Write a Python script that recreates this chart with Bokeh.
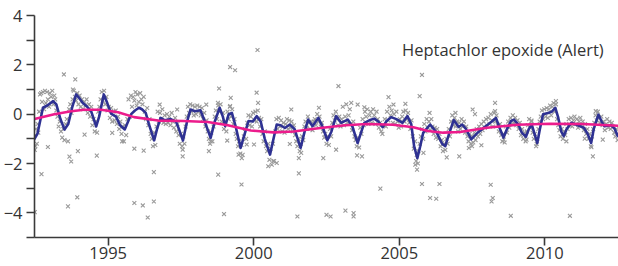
from bokeh.plotting import figure
from bokeh.models import FixedTicker, Label, Range1d
from bokeh.embed import file_html
from bokeh.resources import INLINE

TITLE = "Heptachlor epoxide (Alert)"
X_TICKS = [1995, 2000, 2005, 2010]
Y_TICKS = [-4, -2, 0, 2, 4]
Y_MINOR = [-5, -3, -1, 1, 3]

# seasonal fit (blue)
fit_year = [1992.42, 1992.57, 1992.76, 1992.91, 1993.11, 1993.22, 1993.36, 1993.50, 1993.63, 1993.77,
            1993.90, 1994.01, 1994.13, 1994.28, 1994.42, 1994.59, 1994.69, 1994.85, 1994.97, 1995.10,
            1995.27, 1995.41, 1995.57, 1995.72, 1995.79, 1995.92, 1996.06, 1996.16, 1996.29, 1996.40,
            1996.58, 1996.68, 1996.80, 1996.95, 1997.15, 1997.33, 1997.43, 1997.57, 1997.71, 1997.83,
            1997.98, 1998.17, 1998.32, 1998.52, 1998.66, 1998.83, 1998.94, 1999.02, 1999.14, 1999.25,
            1999.38, 1999.55, 1999.69, 1999.82, 1999.97, 2000.10, 2000.24, 2000.38, 2000.56, 2000.68,
            2000.79, 2000.92, 2001.07, 2001.24, 2001.40, 2001.61, 2001.75, 2001.87, 2002.02, 2002.22,
            2002.36, 2002.53, 2002.67, 2002.83, 2003.00, 2003.23, 2003.39, 2003.57, 2003.70, 2003.80,
            2003.97, 2004.14, 2004.28, 2004.43, 2004.55, 2004.72, 2004.90, 2005.11, 2005.28, 2005.41,
            2005.51, 2005.62, 2005.72, 2005.82, 2006.06, 2006.29, 2006.47, 2006.58, 2006.71, 2006.87,
            2007.04, 2007.16, 2007.29, 2007.47, 2007.72, 2008.01, 2008.18, 2008.32, 2008.46, 2008.58,
            2008.70, 2008.84, 2008.94, 2009.09, 2009.21, 2009.35, 2009.45, 2009.55, 2009.62, 2009.74,
            2009.83, 2009.94, 2010.11, 2010.24, 2010.36, 2010.45, 2010.57, 2010.65, 2010.75, 2010.91,
            2011.13, 2011.34, 2011.47, 2011.59, 2011.68, 2011.84, 2011.95, 2012.05, 2012.28, 2012.40,
            2012.52]
fit_val = [-1.10, -0.80, 0.26, 0.35, 0.53, 0.40, -0.20, -0.62, -0.40, 0.30,
           0.80, 0.65, 0.45, 0.30, 0.10, -0.50, -0.10, 0.80, 0.45, 0.02,
           -0.10, -0.45, -0.62, -0.20, 0.00, 0.15, 0.26, 0.20, 0.05, -0.40,
           -1.06, -0.60, -0.15, -0.25, -0.20, -0.30, -0.60, -1.07, -0.30, 0.19,
           0.12, 0.16, -0.30, -0.96, -0.30, 0.26, -0.10, -0.49, 0.00, 0.05,
           -0.50, -1.37, -0.80, -0.28, -0.30, -0.08, -0.30, -1.00, -1.64, -1.00,
           -0.42, -0.45, -0.56, -0.42, -0.60, -1.37, -0.70, -0.22, -0.49, -0.15,
           -0.50, -1.06, -0.70, -0.08, -0.35, -0.22, -0.50, -1.17, -0.70, -0.35,
           -0.25, -0.18, -0.30, -0.53, -0.30, -0.12, -0.20, -0.35, -0.08, -0.40,
           -1.30, -1.78, -1.30, -0.76, -0.42, -0.76, -1.20, -1.30, -0.80, -0.24,
           -0.52, -0.42, -0.60, -1.02, -0.72, -0.45, -0.30, -0.15, -0.60, -0.95,
           -0.60, -0.27, -0.22, -0.42, -0.75, -0.92, -0.60, -0.42, -0.70, -1.17,
           -0.60, 0.00, 0.05, 0.10, 0.26, -0.10, -0.72, -0.89, -0.60, -0.35,
           -0.45, -0.55, -0.80, -1.17, -0.60, -0.02, -0.30, -0.49, -0.45, -0.60,
           -0.92]

# long-term trend (magenta)
trend_year = [1992.47, 1993.15, 1993.73, 1994.18, 1994.76, 1995.34, 1995.89, 1996.71, 1997.60,
              1998.42, 1999.11, 1999.90, 2000.68, 2001.37, 2002.29, 2003.15, 2003.90, 2004.79,
              2005.48, 2005.99, 2006.51, 2007.09, 2008.01, 2009.04, 2010.17, 2011.30, 2012.53]
trend_val = [-0.20, 0.00, 0.12, 0.18, 0.18, 0.08, -0.12, -0.26, -0.28,
             -0.32, -0.45, -0.66, -0.74, -0.70, -0.56, -0.45, -0.40, -0.43,
             -0.53, -0.68, -0.75, -0.72, -0.55, -0.43, -0.39, -0.40, -0.47]

# observations (grey crosses): dense cloud
cloud_pts = [
    (1992.45, -0.9), (1992.48, -1.45), (1992.5, -1.3), (1992.52, -0.6), (1992.55, -1.2), (1992.58, -0.4),
    (1992.6, -0.75), (1992.63, 0.1), (1992.66, 0.8), (1992.7, 0.85), (1992.73, 0.5), (1992.76, 0.9),
    (1992.8, 0.2), (1992.83, 0.95), (1992.86, 0.45), (1992.9, 0.9), (1992.93, 0.6), (1992.97, 0.3),
    (1993.0, 0.85), (1993.04, 0.7), (1993.08, 0.95), (1993.12, 0.4), (1993.15, 0.75), (1993.18, 0.6),
    (1993.22, 0.15), (1993.26, -0.1), (1993.3, -0.5), (1993.34, -0.3), (1993.38, -0.7), (1993.42, -0.95),
    (1993.46, -0.6), (1993.5, -1.05), (1993.54, -0.4), (1993.58, -0.2), (1993.62, -1.1), (1993.66, 0.2),
    (1993.7, 0.4), (1993.74, 0.05), (1993.78, 0.6), (1993.82, 0.95), (1993.86, 0.7), (1993.9, 0.55),
    (1993.94, 0.85), (1993.98, 0.4), (1994.02, 0.75), (1994.06, 0.3), (1994.1, 0.6), (1994.14, 0.2),
    (1994.18, 0.5), (1994.22, 0.35), (1994.26, 0.6), (1994.3, 0.05), (1994.34, 0.4), (1994.38, -0.1),
    (1994.42, 0.3), (1994.46, -0.45), (1994.5, -0.2), (1994.54, -0.7), (1994.58, -0.3), (1994.62, -0.75),
    (1994.66, 0.1), (1994.7, 0.3), (1994.74, 0.6), (1994.78, 0.9), (1994.82, 0.55), (1994.86, 0.95),
    (1994.9, 0.4), (1994.94, 0.7), (1994.98, 0.15), (1995.02, 0.3), (1995.06, -0.15), (1995.1, 0.25),
    (1995.14, -0.3), (1995.18, 0.1), (1995.22, -0.25), (1995.26, 0.15), (1995.3, -0.4), (1995.34, -0.1),
    (1995.38, -0.6), (1995.42, -0.3), (1995.46, -0.8), (1995.5, -0.5), (1995.54, -1.1), (1995.58, -0.45),
    (1995.62, -0.85), (1995.66, -0.2), (1995.7, 0.6), (1995.74, -0.1), (1995.78, 0.75), (1995.82, 0.3),
    (1995.86, 0.7), (1995.9, 0.55), (1995.94, 0.9), (1995.98, 0.35), (1996.0, 0.8), (1996.05, 0.5),
    (1996.1, 0.85), (1996.14, 0.6), (1996.18, 0.4), (1996.22, 0.7), (1996.26, 0.1), (1996.3, -0.2),
    (1996.34, 0.25), (1996.38, -0.45), (1996.42, -0.2), (1996.46, -0.8), (1996.5, -1.0), (1996.54, -1.3),
    (1996.58, -0.75), (1996.62, -1.25), (1996.66, -0.5), (1996.7, 0.1), (1996.74, -0.3), (1996.78, 0.05),
    (1996.82, -0.2), (1996.86, 0.2), (1996.9, -0.35), (1996.94, -0.05), (1996.98, -0.4), (1997.02, 0.0),
    (1997.06, -0.35), (1997.1, -0.1), (1997.14, -0.45), (1997.18, 0.05), (1997.22, -0.3), (1997.26, -0.55),
    (1997.3, -0.15), (1997.34, -0.7), (1997.38, -0.4), (1997.42, -0.85), (1997.46, -1.2), (1997.5, -0.8),
    (1997.54, -1.3), (1997.58, -0.9), (1997.62, -1.2), (1997.66, -0.5), (1997.7, -0.1), (1997.74, 0.3),
    (1997.78, 0.05), (1997.82, 0.4), (1997.86, 0.1), (1997.9, 0.35), (1997.94, -0.05), (1997.98, 0.3),
    (1998.02, 0.0), (1998.06, 0.35), (1998.1, 0.1), (1998.14, 0.3), (1998.18, -0.05), (1998.22, 0.25),
    (1998.26, -0.2), (1998.3, 0.05), (1998.34, -0.5), (1998.38, -0.25), (1998.42, -0.7), (1998.46, -1.0),
    (1998.5, -1.2), (1998.54, -0.75), (1998.58, -1.1), (1998.62, -0.5), (1998.66, -0.1), (1998.7, 0.15),
    (1998.74, -0.2), (1998.78, 0.35), (1998.82, 0.1), (1998.86, 0.4), (1998.9, -0.3), (1998.94, 0.05),
    (1998.98, -0.6), (1999.02, -0.3), (1999.06, -0.7), (1999.1, 0.1), (1999.14, -0.2), (1999.18, 0.3),
    (1999.22, -0.1), (1999.26, 0.2), (1999.3, -0.4), (1999.34, -0.2), (1999.38, -0.8), (1999.42, -1.0),
    (1999.46, -1.3), (1999.5, -1.1), (1999.54, -1.6), (1999.58, -1.25), (1999.62, -1.65), (1999.66, -0.9),
    (1999.7, -0.6), (1999.74, -1.0), (1999.78, -0.35), (1999.82, -0.05), (1999.86, -0.45), (1999.9, -0.1),
    (1999.94, -0.5), (1999.98, 0.05), (2000.02, -0.25), (2000.06, 0.1), (2000.1, -0.3), (2000.14, 0.15),
    (2000.18, -0.15), (2000.22, -0.5), (2000.26, -0.2), (2000.3, -0.8), (2000.34, -1.1), (2000.38, -0.7),
    (2000.42, -1.3), (2000.46, -1.5), (2000.5, -1.2), (2000.54, -1.85), (2000.58, -1.4), (2000.62, -2.05),
    (2000.66, -1.2), (2000.7, -1.9), (2000.74, -0.7), (2000.78, -0.2), (2000.82, -0.6), (2000.86, -0.15),
    (2000.9, -0.5), (2000.94, -0.25), (2000.98, -0.7), (2001.02, -0.35), (2001.06, -0.75), (2001.1, -0.4),
    (2001.14, -0.2), (2001.18, -0.6), (2001.22, -0.25), (2001.26, -0.55), (2001.3, -0.3), (2001.34, -0.7),
    (2001.38, -0.45), (2001.42, -0.85), (2001.46, -1.1), (2001.5, -1.3), (2001.54, -1.0), (2001.58, -1.5),
    (2001.62, -1.2), (2001.66, -0.9), (2001.7, -1.05), (2001.74, -0.5), (2001.78, -0.3), (2001.82, -0.55),
    (2001.86, -0.1), (2001.9, -0.35), (2001.94, -0.6), (2001.98, -0.3), (2002.02, -0.65), (2002.06, -0.3),
    (2002.1, -0.2), (2002.14, -0.45), (2002.18, 0.0), (2002.22, -0.3), (2002.26, -0.1), (2002.3, -0.5),
    (2002.34, -0.35), (2002.38, -0.7), (2002.42, -0.95), (2002.46, -0.8), (2002.5, -1.2), (2002.54, -0.9),
    (2002.58, -1.25), (2002.62, -0.6), (2002.66, -0.9), (2002.7, -0.35), (2002.74, -0.05), (2002.78, -0.25),
    (2002.82, 0.1), (2002.86, -0.2), (2002.9, -0.45), (2002.94, -0.1), (2002.98, -0.5), (2003.02, -0.2),
    (2003.06, 0.3), (2003.1, -0.45), (2003.14, -0.1), (2003.18, 0.4), (2003.22, -0.35), (2003.26, -0.05),
    (2003.3, 0.2), (2003.34, -0.4), (2003.38, -0.65), (2003.42, -0.3), (2003.46, -0.9), (2003.5, -1.05),
    (2003.54, -1.3), (2003.58, -0.95), (2003.62, -1.35), (2003.66, -0.55), (2003.7, -0.8), (2003.74, -0.2),
    (2003.78, -0.45), (2003.82, 0.1), (2003.86, -0.1), (2003.9, 0.2), (2003.94, -0.4), (2003.98, -0.05),
    (2004.02, 0.1), (2004.06, -0.35), (2004.1, 0.2), (2004.14, -0.05), (2004.18, -0.4), (2004.22, 0.1),
    (2004.26, -0.2), (2004.3, -0.55), (2004.34, -0.35), (2004.38, -0.7), (2004.42, -0.8), (2004.46, -0.45),
    (2004.5, -0.2), (2004.54, -0.5), (2004.58, 0.1), (2004.62, -0.25), (2004.66, 0.3), (2004.7, -0.05),
    (2004.74, 0.15), (2004.78, -0.35), (2004.82, 0.0), (2004.86, -0.4), (2004.9, 0.1), (2004.94, -0.3),
    (2004.98, -0.55), (2005.02, -0.2), (2005.06, -0.5), (2005.1, -0.1), (2005.14, 0.1), (2005.18, -0.3),
    (2005.22, 0.15), (2005.26, -0.2), (2005.3, 0.05), (2005.34, -0.35), (2005.38, -0.6), (2005.42, -0.25),
    (2005.46, -0.9), (2005.5, -1.4), (2005.54, -1.1), (2005.58, -1.9), (2005.6, -1.65), (2005.64, -2.0),
    (2005.66, -1.5), (2005.7, -1.2), (2005.74, -0.9), (2005.78, -0.6), (2005.82, -1.0), (2005.86, -0.4),
    (2005.9, -0.7), (2005.94, -0.2), (2005.98, -0.55), (2006.02, -0.3), (2006.06, -0.65), (2006.1, -0.2),
    (2006.14, -0.5), (2006.18, -0.8), (2006.22, -0.55), (2006.26, -0.95), (2006.3, -0.6), (2006.34, -1.0),
    (2006.38, -0.8), (2006.42, -1.3), (2006.46, -1.05), (2006.5, -1.5), (2006.54, -1.2), (2006.58, -1.45),
    (2006.62, -1.0), (2006.66, -1.2), (2006.7, -0.6), (2006.74, -0.9), (2006.78, -0.3), (2006.82, -0.05),
    (2006.86, -0.45), (2006.9, -0.15), (2006.94, -0.5), (2006.98, -0.3), (2007.02, -0.7), (2007.06, -0.35),
    (2007.1, -0.6), (2007.14, -0.2), (2007.18, -0.5), (2007.22, -0.3), (2007.26, -0.75), (2007.3, -0.5),
    (2007.34, -0.9), (2007.38, -1.1), (2007.42, -0.8), (2007.46, -1.2), (2007.5, -0.9), (2007.54, -1.15),
    (2007.58, -0.75), (2007.62, -1.05), (2007.66, -0.6), (2007.7, -0.9), (2007.74, -0.5), (2007.78, -0.8),
    (2007.82, -0.4), (2007.86, -0.65), (2007.9, -0.3), (2007.94, -0.55), (2007.98, -0.2), (2008.02, -0.5),
    (2008.06, -0.15), (2008.1, -0.4), (2008.14, 0.0), (2008.18, -0.25), (2008.22, -0.5), (2008.26, 0.05),
    (2008.3, -0.3), (2008.34, -0.05), (2008.38, -0.45), (2008.42, -0.7), (2008.46, -0.4), (2008.5, -0.85),
    (2008.54, -1.1), (2008.58, -0.8), (2008.62, -1.15), (2008.66, -0.5), (2008.7, -0.75), (2008.74, -0.3),
    (2008.78, -0.55), (2008.82, -0.15), (2008.86, -0.4), (2008.9, -0.05), (2008.94, -0.35), (2008.98, -0.15),
    (2009.02, -0.45), (2009.06, -0.25), (2009.1, -0.6), (2009.14, -0.35), (2009.18, -0.85), (2009.22, -0.6),
    (2009.26, -1.0), (2009.3, -0.75), (2009.34, -1.1), (2009.38, -0.7), (2009.42, -0.45), (2009.46, -0.2),
    (2009.5, -0.55), (2009.54, -0.3), (2009.58, -0.75), (2009.62, -1.0), (2009.66, -0.8), (2009.7, -1.3),
    (2009.74, -1.0), (2009.78, -0.6), (2009.82, -0.3), (2009.86, -0.1), (2009.9, 0.15), (2009.94, -0.2),
    (2009.98, 0.2), (2010.02, -0.1), (2010.06, 0.25), (2010.1, -0.15), (2010.14, 0.2), (2010.18, 0.35),
    (2010.22, -0.05), (2010.26, 0.3), (2010.3, 0.45), (2010.34, 0.1), (2010.38, 0.4), (2010.42, -0.2),
    (2010.46, -0.45), (2010.5, -0.65), (2010.54, -0.9), (2010.58, -0.6), (2010.62, -1.0), (2010.66, -0.7),
    (2010.7, -0.85), (2010.74, -0.4), (2010.78, -0.6), (2010.82, -0.2), (2010.86, -0.45), (2010.9, -0.15),
    (2010.94, -0.5), (2010.98, -0.25), (2011.02, -0.1), (2011.06, -0.4), (2011.1, -0.2), (2011.14, -0.55),
    (2011.18, -0.3), (2011.22, -0.15), (2011.26, -0.45), (2011.3, -0.3), (2011.34, -0.65), (2011.38, -0.4),
    (2011.42, -0.8), (2011.46, -0.6), (2011.5, -1.0), (2011.54, -0.8), (2011.58, -1.3), (2011.62, -0.9),
    (2011.66, -0.6), (2011.7, -0.35), (2011.74, -0.05), (2011.78, -0.25), (2011.82, 0.1), (2011.86, -0.15),
    (2011.9, -0.35), (2011.94, -0.1), (2011.98, -0.45), (2012.02, -0.3), (2012.06, -0.65), (2012.1, -0.4),
    (2012.14, -0.2), (2012.18, -0.55), (2012.22, -0.3), (2012.26, -0.6), (2012.3, -0.35), (2012.34, -0.5),
    (2012.38, -0.75), (2012.42, -0.9), (2012.46, -0.6), (2012.5, -1.05),
]

# observations (grey crosses): outliers away from the cloud
outlier_pts = [
    (1993.48, 1.61), (1993.87, 1.41), (1993.79, 1.0), (1992.48, -3.97), (1992.71, -2.43), (1993.62, -3.74),
    (1993.94, -3.37), (1993.73, -1.92), (1993.67, -1.72), (1993.96, -1.5), (1994.61, -1.68), (1992.93, -1.33),
    (1994.19, -0.83), (1995.14, -0.76), (1995.48, -1.1), (1995.90, -3.6), (1996.19, -3.7), (1996.36, -4.19),
    (1996.57, -3.54), (1996.57, -2.35), (1995.90, -1.4), (1996.22, -1.48), (1997.56, -1.71), (1997.56, -1.44),
    (1998.81, 1.04), (1998.78, -2.45), (1998.98, -4.05), (1999.19, 1.91), (1999.36, 1.78), (2000.13, 2.6),
    (1999.21, 0.66), (1999.58, -2.85), (2000.10, 0.87), (2000.15, 0.46), (2001.50, -4.15), (2001.55, -2.4),
    (2001.55, -1.78), (2001.63, -1.57), (2001.29, 0.19), (2002.24, 0.26), (2000.01, -1.23), (2001.24, -1.21),
    (1999.48, -1.64), (1999.59, -1.78), (2000.50, -2.11), (2000.67, -1.91), (2000.79, -1.98), (2002.39, -1.78),
    (2002.50, -4.08), (2002.64, -4.15), (2002.91, 1.14), (2003.15, -3.91), (2003.43, -4.01), (2003.43, -4.15),
    (2004.35, -3.02), (2005.78, 1.59), (2005.70, 0.73), (2005.78, -2.83), (2006.38, -2.83), (2006.06, -3.4),
    (2006.27, -3.43), (2008.14, -2.86), (2008.21, -3.4), (2008.17, -3.54), (2008.83, -4.12), (2010.86, -4.12),
    (2004.63, 0.69), (2005.21, 0.42), (2008.29, 0.46), (2008.29, 0.12), (2010.38, 0.53), (2011.65, -1.71),
    (2003.55, -1.67), (2003.72, -1.71), (2005.55, -2.05), (2005.61, -2.25), (2005.83, -1.57), (2006.63, -1.75),
    (2007.06, -1.71), (2007.52, 0.19), (2007.60, 0.0), (2003.35, 0.46), (2003.57, 0.39), (2003.80, 0.28),
    (2004.80, 0.39), (2002.83, -1.44), (2006.04, 0.05), (2006.93, 0.05), (2007.82, -1.26), (2007.39, -1.37),
    (2007.50, -1.3), (2008.59, -1.03), (2011.75, 0.12), (2011.60, -1.34), (2011.37, -0.99), (2011.99, -1.03),
    (2010.74, -1.1), (2009.72, -1.21), (2009.37, -1.03), (2009.54, -0.26), (1996.77, 0.39), (1997.37, 0.19),
    (1998.37, 0.39), (1998.77, 0.46), (1999.09, -1.07), (1998.46, -1.5), (1998.52, -1.1), (1999.19, 0.33),
    (1999.76, -1.23),
]

pt_year = [a for a, b in cloud_pts + outlier_pts]
pt_val = [b for a, b in cloud_pts + outlier_pts]

FONT = "Open Sans"
TEXT_COL = "#333333"
AXIS_COL = "#3a3a3a"

p = figure(width=618, height=266, output_backend="svg", toolbar_location=None,
           x_range=Range1d(1992.47, 2012.53), y_range=Range1d(-5, 4),
           min_border_left=33, min_border_right=0, min_border_top=15, min_border_bottom=29)
p.outline_line_color = None
p.grid.visible = False
p.title.visible = False

p.scatter(pt_year, pt_val, marker="x", size=5.5, line_color="#9a9a9a", line_width=1.1)
p.line(fit_year, fit_val, line_color="#2e3192", line_width=2.6, line_join="round")
p.line(trend_year, trend_val, line_color="#ec1c8c", line_width=2.6, line_join="round")

p.xaxis.ticker = FixedTicker(ticks=X_TICKS)
p.xaxis.major_tick_out = 8
p.xaxis.major_tick_in = 0
p.xaxis.minor_tick_out = 0
p.xaxis.major_label_standoff = 1

p.yaxis.ticker = FixedTicker(ticks=Y_TICKS, minor_ticks=Y_MINOR)
p.yaxis.major_tick_out = 8
p.yaxis.major_tick_in = 0
p.yaxis.minor_tick_out = 8
p.yaxis.minor_tick_in = 0
p.yaxis.major_label_standoff = 4

for ax in (p.xaxis, p.yaxis):
    ax.axis_line_color = AXIS_COL
    ax.axis_line_width = 1.6
    ax.major_tick_line_color = AXIS_COL
    ax.major_tick_line_width = 1.6
    ax.minor_tick_line_color = AXIS_COL
    ax.minor_tick_line_width = 1.6
    ax.major_label_text_font = FONT
    ax.major_label_text_font_size = "16.5px"
    ax.major_label_text_color = TEXT_COL

p.add_layout(Label(x=2012.02, y=2.62, text=TITLE, text_align="right", text_baseline="alphabetic",
                   text_font=FONT, text_font_size="16.5px", text_color=TEXT_COL))

open("out.html", "w").write(file_html(p, INLINE))
